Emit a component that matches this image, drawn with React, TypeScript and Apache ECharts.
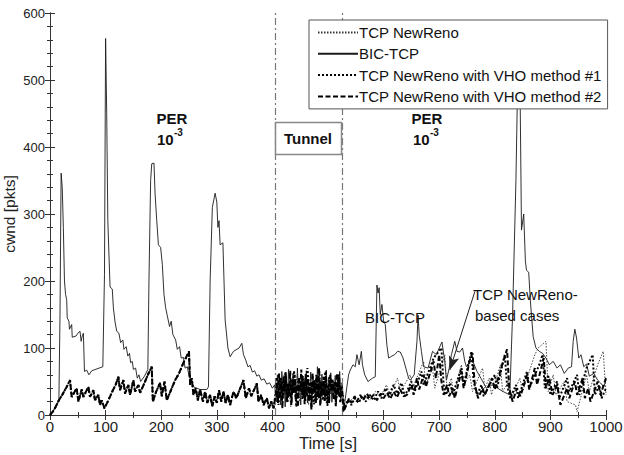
import React, { useEffect, useRef } from "react";
import * as echarts from "echarts";

type P = [number, number];

const FONT = "'Liberation Sans', Arial, Helvetica, sans-serif";

const seriesNames = [
  "TCP NewReno",
  "BIC-TCP",
  "TCP NewReno with VHO method #1",
  "TCP NewReno with VHO method #2",
];

const xTicks = [0, 100, 200, 300, 400, 500, 600, 700, 800, 900, 1000];
const yTicks = [0, 100, 200, 300, 400, 500, 600];
const tunnelStart = 405;
const tunnelEnd = 525;

// NewReno-based cases before the tunnel (all variants coincide)
const newRenoPer1: P[] = [
  [0, 0], [5, 5], [10, 12], [16, 22], [22, 30], [30, 42], [36, 52], [39, 27], [48, 40], [51, 20],
  [57, 38], [60, 27], [69, 42], [72, 27], [78, 37], [81, 22], [87, 30], [90, 15], [93, 22], [98, 10],
  [105, 22], [112, 35], [118, 45], [123, 57], [126, 37], [132, 52], [135, 32], [141, 45], [144, 30],
  [150, 52], [153, 35], [159, 45], [162, 33], [170, 48], [176, 60], [183, 72], [185, 20], [191, 35],
  [198, 48], [201, 28], [206, 50], [210, 22], [218, 38], [225, 52], [232, 62], [240, 78], [246, 88],
  [250, 95], [252, 45], [255, 55], [258, 30], [262, 40], [266, 22], [270, 38], [275, 20], [279, 35],
  [283, 18], [288, 30], [292, 13], [296, 28], [300, 18], [304, 37], [308, 20], [312, 35], [316, 18],
  [320, 30], [324, 15], [330, 35], [335, 25], [348, 52], [352, 25], [358, 40], [362, 28], [372, 47],
  [375, 20], [380, 30], [384, 15], [390, 25], [394, 10], [398, 20], [402, 10],
];

// BIC-TCP before the tunnel
const bicPer1: P[] = [
  [0, 0], [5, 5], [10, 12], [16, 22], [18, 150], [20, 361], [22, 340], [24, 280], [26, 200],
  [28, 180], [30, 172], [31, 145], [34, 140], [35, 128], [39, 135], [40, 116], [47, 118], [50, 122],
  [54, 125], [56, 110], [58, 118], [60, 122], [62, 65], [66, 67], [70, 60], [75, 66], [95, 72],
  [98, 210], [100, 562], [102, 450], [104, 290], [108, 191], [112, 188], [114, 160], [117, 139],
  [120, 125], [124, 122], [127, 108], [131, 112], [133, 98], [137, 102], [140, 88], [143, 92],
  [145, 78], [148, 80], [150, 68], [154, 70], [157, 55], [160, 60], [163, 50], [170, 58], [176, 68],
  [178, 200], [181, 350], [183, 375], [187, 376], [189, 330], [192, 290], [195, 254], [199, 250],
  [202, 225], [205, 180], [208, 160], [211, 148], [215, 132], [218, 140], [221, 120], [226, 112],
  [229, 98], [233, 102], [236, 85], [240, 86], [243, 70], [247, 72], [250, 58], [253, 55],
  [258, 42], [264, 40], [270, 38], [282, 38], [285, 42], [288, 200], [292, 310], [297, 331],
  [300, 318], [302, 280], [304, 290], [306, 254], [311, 257], [315, 142], [320, 100], [324, 87],
  [330, 95], [340, 100], [345, 107], [348, 90], [352, 82], [356, 72], [360, 74], [364, 64],
  [368, 66], [372, 58], [376, 60], [380, 52], [385, 54], [390, 46], [395, 48], [400, 40], [404, 45],
];

// Tunnel (fast fluctuations), sampled every 2 s / 4 s
const bicTunnel = [
  45, 20, 60, 25, 55, 15, 65, 30, 50, 12, 58, 22, 68, 28, 48, 18, 62, 35, 52, 20, 70, 25, 45, 15,
  60, 30, 55, 22, 66, 18, 50, 28, 64, 12, 58, 32, 47, 20, 72, 25, 53, 17, 61, 30, 49, 22, 67, 14,
  56, 27, 63, 19, 51, 33, 59, 16, 45, 28, 65, 21, 48,
];
const vho2Tunnel = [
  30, 55, 18, 62, 25, 50, 10, 58, 35, 64, 20, 47, 28, 66, 15, 53, 32, 60, 22, 45, 12, 57, 38, 68,
  24, 50, 16, 61, 29, 55, 20, 48, 8, 63, 34, 52, 18, 59, 26, 70, 14, 46, 31, 57, 21, 65, 27, 44,
  17, 60, 36, 53, 23, 49, 13, 62, 30, 56, 19, 42,
];
const vho1Tunnel = [
  40, 15, 55, 25, 62, 18, 48, 30, 66, 12, 52, 35, 58, 20, 70, 28, 45, 16, 60, 33, 50, 22, 64, 14,
  56, 38, 47, 24, 61, 30,
];
const newRenoTunnel = [
  25, 50, 18, 60, 30, 45, 12, 55, 35, 62, 20, 48, 28, 58, 15, 52, 38, 44, 22, 66, 26, 50, 17, 57,
  32, 46, 20, 60, 35,
];

// After the tunnel
const bicPer2: P[] = [
  [526, 45], [528, 5], [532, 30], [537, 60], [540, 67], [545, 75], [549, 72], [552, 90], [556, 75],
  [560, 95], [562, 75], [566, 60], [572, 50], [580, 55], [585, 57], [588, 194], [590, 182],
  [592, 190], [594, 150], [597, 165], [600, 140], [603, 135], [606, 104], [609, 85], [615, 88],
  [620, 90], [625, 95], [630, 94], [635, 85], [640, 70], [645, 55], [648, 52], [655, 60],
  [660, 110], [662, 149], [664, 120], [668, 95], [672, 72], [680, 70], [688, 95], [695, 90],
  [700, 100], [705, 109], [710, 80], [713, 52], [718, 70], [722, 90], [728, 110], [732, 95],
  [737, 94], [742, 100], [746, 80], [749, 72], [755, 80], [761, 79], [768, 65], [775, 55],
  [785, 40], [795, 45], [805, 40], [815, 35], [827, 30], [832, 150], [838, 350], [842, 540],
  [845, 520], [848, 276], [852, 300], [855, 230], [857, 216], [861, 213], [864, 170], [869, 117],
  [874, 100], [880, 95], [886, 92], [892, 85], [898, 75], [905, 80], [912, 70], [918, 75],
  [925, 62], [932, 70], [938, 72], [941, 110], [944, 128], [947, 115], [951, 85], [955, 90],
  [960, 72], [965, 76], [970, 58], [978, 62], [985, 52], [990, 48], [996, 42], [1000, 52],
];
const vho2Per2: P[] = [
  [525, 40], [528, 5], [533, 15], [538, 25], [542, 18], [548, 28], [552, 20], [558, 30], [563, 22],
  [570, 32], [575, 24], [582, 30], [588, 22], [595, 32], [600, 25], [606, 33], [612, 24], [618, 35],
  [624, 26], [630, 38], [636, 28], [642, 30], [650, 45], [654, 30], [660, 55], [664, 38], [672, 60],
  [676, 42], [690, 80], [694, 55], [700, 90], [704, 50], [708, 30], [714, 45], [718, 28], [724, 40],
  [728, 25], [740, 65], [744, 40], [756, 85], [760, 92], [764, 45], [770, 25], [778, 40], [782, 30],
  [795, 55], [800, 38], [815, 80], [822, 98], [826, 40], [832, 20], [840, 40], [846, 28], [858, 60],
  [862, 38], [872, 70], [876, 45], [888, 85], [892, 40], [898, 55], [904, 30], [912, 45], [918, 15],
  [930, 40], [934, 25], [944, 50], [948, 30], [958, 55], [962, 25], [968, 40], [972, 20], [985, 50],
  [990, 30], [1000, 55],
];
const vho1Per2: P[] = [
  [525, 35], [530, 12], [536, 22], [542, 15], [548, 25], [555, 18], [562, 28], [568, 20], [575, 30],
  [582, 22], [590, 35], [596, 25], [604, 40], [610, 30], [618, 45], [624, 32], [632, 48], [638, 28],
  [650, 50], [656, 35], [668, 65], [672, 45], [690, 85], [704, 100], [708, 45], [712, 30], [720, 48],
  [724, 30], [740, 70], [744, 45], [758, 95], [762, 50], [768, 30], [776, 45], [780, 28], [800, 60],
  [804, 40], [818, 90], [822, 45], [828, 25], [838, 45], [842, 25], [858, 65], [862, 40], [880, 75],
  [886, 90], [890, 40], [896, 60], [900, 30], [912, 50], [916, 25], [930, 55], [934, 35], [948, 60],
  [952, 30], [965, 70], [976, 90], [980, 30], [988, 45], [992, 25], [1000, 40],
];
const newRenoPer2: P[] = [
  [525, 30], [529, 8], [535, 18], [545, 25], [555, 20], [565, 30], [575, 22], [585, 35], [595, 28],
  [605, 45], [612, 30], [625, 55], [630, 35], [648, 60], [652, 40], [672, 80], [676, 45], [688, 70],
  [692, 40], [710, 90], [714, 40], [722, 55], [726, 30], [740, 75], [744, 45], [755, 60], [760, 35],
  [778, 70], [782, 40], [790, 55], [794, 30], [810, 75], [814, 35], [825, 50], [830, 25], [845, 55],
  [850, 35], [872, 90], [878, 100], [892, 110], [896, 35], [905, 60], [910, 30], [925, 50],
  [930, 20], [945, 15], [948, 5], [965, 60], [970, 35], [985, 75], [995, 95], [1000, 30],
];

const sampled = (vals: number[], start: number, step: number): P[] =>
  vals.map((v, i) => [start + i * step, v] as P);

const bicData: P[] = [...bicPer1, ...sampled(bicTunnel, 405, 2), ...bicPer2];
const vho2Data: P[] = [...newRenoPer1, ...sampled(vho2Tunnel, 406, 2), ...vho2Per2];
const vho1Data: P[] = [...newRenoPer1, ...sampled(vho1Tunnel, 407, 4), ...vho1Per2];
const newRenoData: P[] = [...newRenoPer1, ...sampled(newRenoTunnel, 409, 4), ...newRenoPer2];

export default function App() {
  const ref = useRef<HTMLDivElement>(null);
  useEffect(() => {
    if (!ref.current) return;
    const chart = echarts.init(ref.current, undefined, { renderer: "svg" });
    const axisLine = { show: true, lineStyle: { color: "#333", width: 1 } };
    const mkX = (pos: "bottom" | "top", labels: boolean) => ({
      type: "value",
      position: pos,
      min: xTicks[0],
      max: xTicks[xTicks.length - 1],
      interval: 100,
      axisLine,
      axisTick: { show: true, inside: true, length: 5, lineStyle: { color: "#333" } },
      minorTick: { show: true, splitNumber: 2, length: 3, lineStyle: { color: "#333" } },
      splitLine: { show: false },
      axisLabel: {
        show: labels,
        fontSize: 15,
        color: "#222",
        fontFamily: FONT,
        margin: 4,
        formatter: (v: number) => String(v),
      },
    });
    const mkY = (pos: "left" | "right", labels: boolean) => ({
      type: "value",
      position: pos,
      min: yTicks[0],
      max: yTicks[yTicks.length - 1],
      interval: 100,
      axisLine,
      axisTick: { show: true, inside: true, length: 5, lineStyle: { color: "#333" } },
      minorTick: { show: true, splitNumber: 5, length: 3, lineStyle: { color: "#333" } },
      splitLine: { show: false },
      axisLabel: {
        show: labels,
        fontSize: 13,
        color: "#222",
        fontFamily: FONT,
        margin: 5,
        formatter: (v: number) => String(v),
      },
    });
    const xb: any = mkX("bottom", true);
    xb.name = "Time [s]";
    xb.nameLocation = "middle";
    xb.nameGap = 19;
    xb.nameMoveOverlap = false;
    xb.nameTextStyle = { fontSize: 16.5, color: "#222", fontFamily: FONT, lineHeight: 17 };
    const yl: any = mkY("left", true);
    yl.name = "cwnd [pkts]";
    yl.nameLocation = "middle";
    yl.nameGap = 33;
    yl.nameMoveOverlap = false;
    yl.nameTextStyle = { fontSize: 15.5, color: "#222", fontFamily: FONT, lineHeight: 16 };

    const txt = (text: string, x: number, y: number, size: number, bold: boolean, align = "center") => ({
      type: "text",
      x,
      y,
      z: 100,
      style: {
        text,
        fill: "#111",
        font: `${bold ? "bold " : ""}${size}px ${FONT}`,
        textAlign: align,
        textVerticalAlign: "middle",
      },
    });

    chart.setOption({
      animation: false,
      backgroundColor: "#fff",
      grid: { left: 50, right: 18, top: 13, bottom: 40, containLabel: false, outerBoundsMode: "none" },
      xAxis: [xb, mkX("top", false)],
      yAxis: [yl, mkY("right", false)],
      legend: {
        orient: "vertical",
        left: 309,
        top: 20,
        itemWidth: 40,
        itemHeight: 15,
        itemGap: 6.3,
        padding: [5, 6, 5, 8],
        backgroundColor: "#fff",
        borderColor: "#555",
        borderWidth: 1,
        z: 50,
        itemStyle: { opacity: 0 },
        textStyle: { fontSize: 15, color: "#111", fontFamily: FONT, padding: [0, 0, 0, -4] },
        data: seriesNames,
      },
      series: [
        {
          name: seriesNames[1],
          type: "line",
          data: bicData,
          symbol: "none",
          z: 2,
          itemStyle: { color: "rgba(0,0,0,0)" },
          lineStyle: { color: "#1a1a1a", width: 0.9 },
          markLine: {
            silent: true,
            symbol: "none",
            label: { show: false },
            data: [
              { xAxis: tunnelStart, lineStyle: { color: "#777", width: 1.2, type: [7, 3, 2, 3] } },
              { xAxis: tunnelEnd, lineStyle: { color: "#777", width: 1.2, type: [7, 3, 2, 3] } },
              [
                {
                  coord: [764, 184],
                  symbol: "none",
                  lineStyle: { color: "#222", width: 1, type: "solid" },
                },
                { coord: [719, 67], symbol: "arrow", symbolSize: [8, 14], itemStyle: { color: "#111" } },
              ],
            ],
          },
        },
        {
          name: seriesNames[0],
          type: "line",
          data: newRenoData,
          symbol: "none",
          z: 3,
          itemStyle: { color: "rgba(0,0,0,0)" },
          lineStyle: { color: "#333", width: 0.9, type: [1.5, 1.5] },
        },
        {
          name: seriesNames[2],
          type: "line",
          data: vho1Data,
          symbol: "none",
          z: 4,
          itemStyle: { color: "rgba(0,0,0,0)" },
          lineStyle: { color: "#000", width: 2, type: [2, 2] },
        },
        {
          name: seriesNames[3],
          type: "line",
          data: vho2Data,
          symbol: "none",
          z: 5,
          itemStyle: { color: "rgba(0,0,0,0)" },
          lineStyle: { color: "#000", width: 2, type: [5, 2.5] },
        },
      ],
      graphic: [
        txt("PER", 172, 118, 15, true),
        txt("10", 157, 139, 15, true, "left"),
        txt("-3", 174, 132, 10, true, "left"),
        txt("PER", 427, 118, 15, true),
        txt("10", 413, 139, 15, true, "left"),
        txt("-3", 430, 132, 10, true, "left"),
        {
          type: "rect",
          z: 90,
          shape: { x: 275.5, y: 122.5, width: 66, height: 32 },
          style: { fill: "#fff", stroke: "#888", lineWidth: 1.5 },
        },
        txt("Tunnel", 308, 138, 15, true),
        txt("BIC-TCP", 395, 317, 15, false),
        txt("TCP NewReno-", 473, 294, 15, false, "left"),
        txt("based cases", 475, 315, 15, false, "left"),
      ],
    });
    return () => chart.dispose();
  }, []);
  return (
    <div
      ref={ref}
      style={{ position: "fixed", left: 0, top: 0, width: 624, height: 455 }}
    />
  );
}
